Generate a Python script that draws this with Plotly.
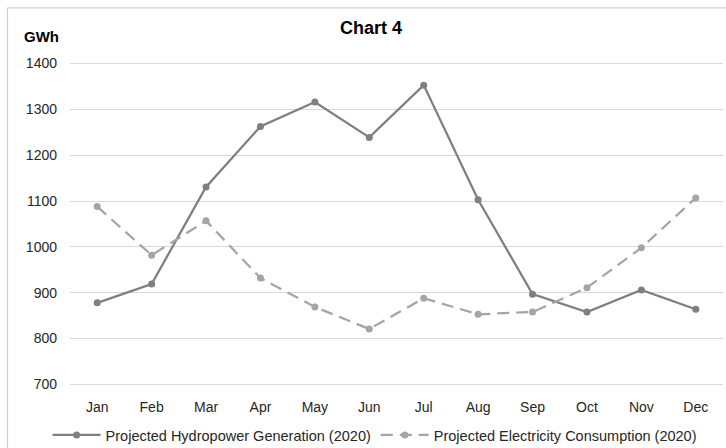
import plotly.graph_objects as go

months = ["Jan", "Feb", "Mar", "Apr", "May", "Jun", "Jul", "Aug", "Sep", "Oct", "Nov", "Dec"]
hydro_gen = [878, 919, 1131, 1263, 1316, 1239, 1353, 1103, 897, 858, 906, 864]
elec_cons = [1088, 982, 1057, 932, 869, 821, 888, 853, 858, 911, 998, 1107]
y_ticks = [700, 800, 900, 1000, 1100, 1200, 1300, 1400]

FONT = "Liberation Sans, Arial, sans-serif"

fig = go.Figure()
fig.add_trace(go.Scatter(
    x=months, y=hydro_gen, mode="lines+markers",
    name="Projected Hydropower Generation (2020)",
    line=dict(color="#7f7f7f", width=2.25),
    marker=dict(color="#7f7f7f", size=7, symbol="circle"),
))
fig.add_trace(go.Scatter(
    x=months, y=elec_cons, mode="lines+markers",
    name="Projected Electricity Consumption (2020)",
    line=dict(color="#a5a5a5", width=2.25, dash="12px,7px"),
    marker=dict(color="#a5a5a5", size=7, symbol="circle"),
))

fig.update_layout(
    width=726, height=448,
    margin=dict(l=70, r=3, t=59, b=59, autoexpand=False),
    paper_bgcolor="white", plot_bgcolor="white",
    font=dict(family=FONT, size=14, color="#262626"),
    title=dict(text="<b>Chart 4</b>", x=0.511, xref="container", xanchor="center",
               y=1 - 28 / 448, yref="container", yanchor="middle",
               font=dict(family=FONT, size=18, color="#000000")),
    showlegend=True,
    legend=dict(orientation="h", xref="container", x=0.516, xanchor="center",
                y=-0.1396, yanchor="middle", font=dict(size=14.5, color="#262626"),
                bgcolor="rgba(0,0,0,0)", tracegroupgap=0, itemwidth=48),
    xaxis=dict(type="category", range=[-0.5, 11.5], showgrid=False, showline=False,
               zeroline=False, ticks="", ticklabelstandoff=8, tickangle=0,
               tickfont=dict(size=14, color="#262626")),
    yaxis=dict(range=[690, 1410], tickvals=y_ticks, showgrid=True, gridcolor="#d9d9d9",
               gridwidth=1, zeroline=False, showline=False, ticks="",
               ticklabelstandoff=12, tickfont=dict(size=14, color="#262626")),
    annotations=[dict(text="<b>GWh</b>", xref="paper", yref="paper",
                      x=(22 - 70) / 653, y=1 + (58.7 - 36) / 330.2,
                      xanchor="left", yanchor="middle", showarrow=False,
                      font=dict(family=FONT, size=15, color="#000000"))],
    shapes=[
        # chart frame edges
        dict(type="line", xref="paper", yref="paper", xsizemode="pixel", ysizemode="pixel",
             xanchor=0, yanchor=1, x0=-62.5, x1=700, y0=51.2, y1=51.2,
             line=dict(color="#d0d0d0", width=1.2)),
        dict(type="line", xref="paper", yref="paper", xsizemode="pixel", ysizemode="pixel",
             xanchor=0, yanchor=1, x0=-62.5, x1=-62.5, y0=51.2, y1=-420,
             line=dict(color="#d0d0d0", width=1.2)),
    ],
)

fig.write_html("out.html")
